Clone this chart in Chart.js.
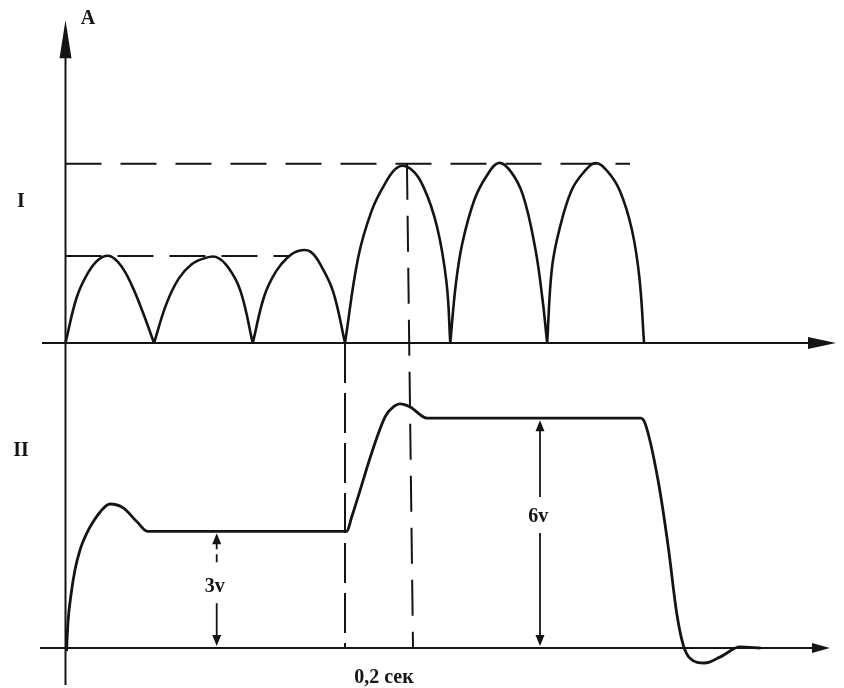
<!DOCTYPE html>
<html lang="ru">
<head>
<meta charset="utf-8">
<title>Выпрямленный ток (I) и напряжение (II)</title>
<script src="https://cdn.jsdelivr.net/npm/chart.js@4"></script>
<style>
html,body{margin:0;padding:0;background:#fff;}
#wrap{position:relative;width:844px;height:688px;}
</style>
</head>
<body>
<div id="wrap"><canvas id="c"></canvas></div>
<script>
// ---- DATA (time in half-periods of the rectified wave) ----
// Panel I: rectified current, relative amplitude; null = break between humps
const timeI = [
  0, 0.119, 0.238, 0.356, 0.475, 0.594, 0.713, 0.831, 0.95, null,
  0.95, 1.083, 1.215, 1.348, 1.48, 1.613, 1.745, 1.878, 2.01, null,
  2.01, 2.134, 2.258, 2.381, 2.505, 2.629, 2.753, 2.876, 3.00, null,
  3.00, 3.141, 3.283, 3.424, 3.565, 3.706, 3.848, 3.989, 4.09, 4.13, null,
  4.13, 4.19, 4.26, 4.39, 4.52, 4.65, 4.78, 4.91, 5.04, 5.12, 5.17, null,
  5.17, 5.22, 5.30, 5.43, 5.56, 5.69, 5.82, 5.95, 6.08, 6.16, 6.21
];
const currentI = [
  0, 0.52, 0.80, 0.96, 1.00, 0.89, 0.66, 0.35, 0, null,
  0, 0.45, 0.74, 0.90, 0.97, 0.99, 0.87, 0.60, 0, null,
  0, 0.54, 0.82, 0.98, 1.06, 1.05, 0.87, 0.58, 0, null,
  0, 0.98, 1.51, 1.82, 2.02, 2.00, 1.78, 1.33, 0.69, 0, null,
  0, 0.68, 1.15, 1.65, 1.92, 2.07, 1.97, 1.70, 1.10, 0.50, 0, null,
  0, 0.85, 1.30, 1.75, 1.96, 2.07, 1.97, 1.75, 1.30, 0.75, 0
];
// Panel II: output voltage, volts
const timeII = [
  0.011, 0.027, 0.059, 0.102, 0.156, 0.220, 0.295, 0.381, 0.478, 0.62, 0.77, 0.88,
  3.02, 3.07, 3.43, 3.53, 3.59, 3.70, 3.88,
  6.17, 6.22, 6.36, 6.47, 6.56, 6.63, 6.70, 6.86, 7.03, 7.24, 7.46
];
const voltageII = [
  -0.08, 0.68, 1.38, 2.03, 2.55, 2.94, 3.27, 3.56, 3.74, 3.64, 3.27, 3.03,
  3.03, 3.39, 6.00, 6.28, 6.34, 6.26, 5.97,
  5.97, 5.84, 4.36, 2.62, 0.91, 0.08, -0.26, -0.39, -0.23, 0.03, 0
];
// Peak levels of panel I and where their dashed guides end
const peakLevels = [1.00, 2.06];
const peakGuideEnds = [2.41, 6.06];
// Vertical dashed markers (top time, bottom time, start level on panel I)
const markerTopTimes = [3.00, 3.665];
const markerBottomTimes = [3.00, 3.73];
const markerStartLevels = [0, 2.06];
// Steady levels of panel II with dimension labels
const stepLevels = [3.03, 5.97];
const stepLabels = ['3v', '6v'];
const stepTimes = [1.623, 5.093];
const stepLabelLevels = [1.45, 3.27];
// Other labels
const axisLabel = 'A';
const panelLabels = ['I', 'II'];
const timeLabel = '0,2 сек';

// ---- RENDERING ----
const INK = '#141414';
const FONT = 'bold 20px "Liberation Serif", "Times New Roman", serif';
const pts = (xs, ys) => xs.map((x, k) => ({ x: x, y: ys[k] }));

function seg(ctx, x1, y1, x2, y2) {
  ctx.beginPath(); ctx.moveTo(x1, y1); ctx.lineTo(x2, y2); ctx.stroke();
}
function head(ctx, tx, ty, dx, dy, len, hw) {
  const bx = tx - dx * len, by = ty - dy * len;
  ctx.beginPath();
  ctx.moveTo(tx, ty);
  ctx.lineTo(bx - dy * hw, by + dx * hw);
  ctx.lineTo(bx + dy * hw, by - dx * hw);
  ctx.closePath();
  ctx.fill();
}

const diagram = {
  id: 'diagram',
  beforeDatasetsDraw(chart) {
    const { ctx } = chart;
    const { x, yI, yII } = chart.scales;
    ctx.save();
    ctx.strokeStyle = INK; ctx.fillStyle = INK; ctx.lineCap = 'butt';
    // vertical axis (spans both panels)
    ctx.lineWidth = 2;
    const x0 = x.getPixelForValue(0);
    const yTop = yI.getPixelForValue(3.71);
    seg(ctx, x0, yII.getPixelForValue(-0.96), x0, yTop + 20);
    head(ctx, x0, yTop, 0, -1, 38, 6);
    // time axes
    const b1 = yI.getPixelForValue(0), b2 = yII.getPixelForValue(0);
    const e1 = x.getPixelForValue(8.27), e2 = x.getPixelForValue(8.205);
    seg(ctx, x.getPixelForValue(-0.252), b1, e1 - 10, b1);
    head(ctx, e1, b1, 1, 0, 28, 6);
    seg(ctx, x.getPixelForValue(-0.274), b2, e2 - 8, b2);
    head(ctx, e2, b2, 1, 0, 18, 5);
    // vertical dashed markers joining the two panels
    const dashes = [[40, 10], [36, 16]];
    markerTopTimes.forEach((t, k) => {
      ctx.setLineDash(dashes[k]);
      seg(ctx, x.getPixelForValue(t), yI.getPixelForValue(markerStartLevels[k]),
               x.getPixelForValue(markerBottomTimes[k]), b2);
    });
    ctx.setLineDash([]);
    ctx.restore();
  },
  afterDatasetsDraw(chart) {
    const { ctx } = chart;
    const { x, yI, yII } = chart.scales;
    ctx.save();
    ctx.strokeStyle = INK; ctx.fillStyle = INK;
    ctx.lineWidth = 1.8;
    // dimension arrows for steady levels
    stepLevels.forEach((lv, k) => {
      const px = x.getPixelForValue(stepTimes[k]);
      const top = yII.getPixelForValue(lv) + 2;
      const bot = yII.getPixelForValue(0) - 2;
      const mid = yII.getPixelForValue(stepLabelLevels[k]) - 7;
      if (k === 0) ctx.setLineDash([8, 5]);
      seg(ctx, px, top + 8, px, mid - 18);
      ctx.setLineDash([]);
      seg(ctx, px, mid + 18, px, bot - 8);
      head(ctx, px, top, 0, -1, 11, 4.5);
      head(ctx, px, bot, 0, 1, 11, 4.5);
    });
    // labels
    ctx.font = FONT;
    ctx.textAlign = 'center';
    ctx.textBaseline = 'alphabetic';
    ctx.fillText(axisLabel, x.getPixelForValue(0.24), yI.getPixelForValue(3.667));
    ctx.fillText(panelLabels[0], x.getPixelForValue(-0.478), yI.getPixelForValue(1.563));
    ctx.fillText(panelLabels[1], x.getPixelForValue(-0.478), yII.getPixelForValue(4.99));
    stepLabels.forEach((s, k) => {
      ctx.fillText(s, x.getPixelForValue(stepTimes[k] - 0.02), yII.getPixelForValue(stepLabelLevels[k]));
    });
    ctx.fillText(timeLabel, x.getPixelForValue(3.418), yII.getPixelForValue(-0.91));
    ctx.restore();
  }
};

const base = { showLine: true, pointRadius: 0, pointHoverRadius: 0, borderColor: INK, fill: false, spanGaps: false };
const guide = Object.assign({ borderWidth: 2, borderCapStyle: 'butt', tension: 0 }, base);

new Chart(document.getElementById('c'), {
  type: 'scatter',
  data: {
    datasets: [
      Object.assign({ label: 'I', data: pts(timeI, currentI), yAxisID: 'yI', borderWidth: 2.6,
        tension: 0.4, borderJoinStyle: 'round' }, base),
      Object.assign({ label: 'II', data: pts(timeII, voltageII), yAxisID: 'yII', borderWidth: 2.8,
        cubicInterpolationMode: 'monotone', borderJoinStyle: 'round' }, base),
      Object.assign({ label: 'peak 1', data: [{ x: 0, y: peakLevels[0] }, { x: peakGuideEnds[0], y: peakLevels[0] }],
        yAxisID: 'yI', borderDash: [36, 16] }, guide),
      Object.assign({ label: 'peak 2', data: [{ x: 0, y: peakLevels[1] }, { x: peakGuideEnds[1], y: peakLevels[1] }],
        yAxisID: 'yI', borderDash: [36, 19] }, guide)
    ]
  },
  options: {
    responsive: true,
    maintainAspectRatio: false,
    devicePixelRatio: 1,
    animation: false,
    events: [],
    layout: { padding: 0 },
    plugins: { legend: { display: false }, tooltip: { enabled: false } },
    scales: {
      x: { type: 'linear', min: -0.703, max: 8.356, display: false },
      yI: { type: 'linear', axis: 'y', min: -3.966, max: 3.943, display: false },
      yII: { type: 'linear', axis: 'y', min: -1.039, max: 16.83, display: false }
    }
  },
  plugins: [diagram]
});
</script>
</body>
</html>
